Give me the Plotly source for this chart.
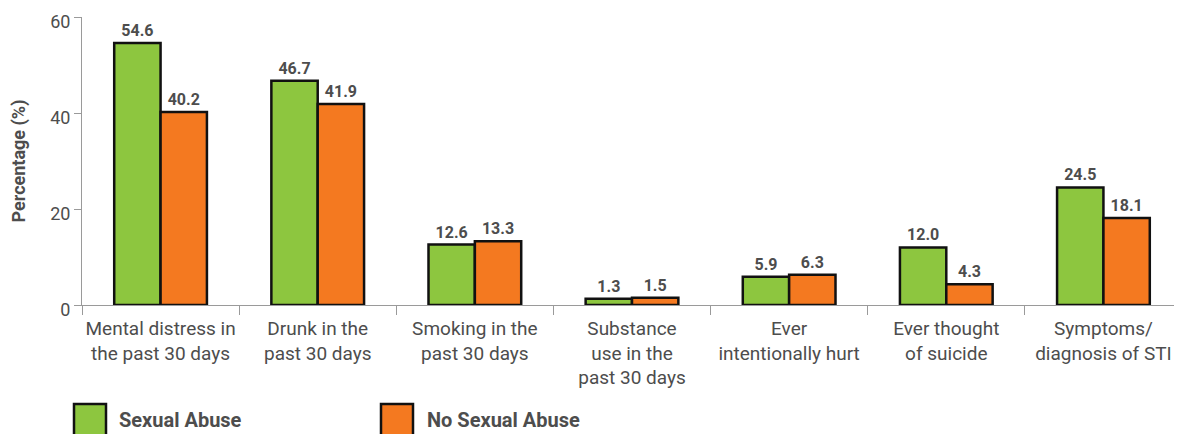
import plotly.graph_objects as go

categories = [
    "Mental distress in<br>the past 30 days",
    "Drunk in the<br>past 30 days",
    "Smoking in the<br>past 30 days",
    "Substance<br>use in the<br>past 30 days",
    "Ever<br>intentionally hurt",
    "Ever thought<br>of suicide",
    "Symptoms/<br>diagnosis of STI",
]
sexual_abuse = [54.6, 46.7, 12.6, 1.3, 5.9, 12.0, 24.5]
no_sexual_abuse = [40.2, 41.9, 13.3, 1.5, 6.3, 4.3, 18.1]
y_ticks = [0, 20, 40, 60]
series_names = ["Sexual Abuse", "No Sexual Abuse"]

GREEN = "#8dc63f"
ORANGE = "#f47920"
TEXT = "#4d4d4d"
FONT = "Roboto, sans-serif"

fig = go.Figure()
for name, vals, col in [(series_names[0], sexual_abuse, GREEN),
                        (series_names[1], no_sexual_abuse, ORANGE)]:
    fig.add_trace(go.Bar(
        x=categories, y=vals, name=name,
        marker=dict(color=col, line=dict(color="#111111", width=2.5)),
        text=[f"{v:.1f}" for v in vals], textposition="outside",
        textfont=dict(family=FONT, size=16, color=TEXT, weight="bold"),
        cliponaxis=False, showlegend=False,
    ))

# page has an 8px body margin, so the figure is offset by 8px
OFF = 8
W, H = 1182 - OFF, 434 - OFF
L, R, T, B = 82 - OFF, 0, 17 - OFF, 129
pw = W - L - R
ph = H - T - B

def px(x):  # page x -> paper
    return (x - OFF - L) / pw

def py(y):  # page y -> paper
    return (H - B - (y - OFF)) / ph

# custom legend
legend_items = [(74, 117, GREEN, series_names[0]), (381, 425, ORANGE, series_names[1])]
for sx, tx, col, label in legend_items:
    fig.add_shape(type="rect", xref="paper", yref="paper",
                  x0=px(sx), x1=px(sx + 32), y0=py(436), y1=py(404),
                  fillcolor=col, line=dict(color="#111111", width=2.5))
    fig.add_annotation(xref="paper", yref="paper", x=px(tx), y=py(420),
                       text=label, showarrow=False, xanchor="left", yanchor="middle",
                       font=dict(family=FONT, size=20, color=TEXT, weight="bold"))

fig.update_layout(
    width=W, height=H,
    margin=dict(l=L, r=R, t=T, b=B, autoexpand=False),
    plot_bgcolor="white", paper_bgcolor="white",
    barmode="group", bargap=0.41, bargroupgap=0,
    font=dict(family=FONT, color=TEXT),
    xaxis=dict(
        showline=True, linecolor="#9a9a9a", linewidth=1,
        ticks="outside", tickson="boundaries", ticklen=9, tickcolor="#9a9a9a",
        tickfont=dict(family=FONT, size=19, color=TEXT),
        tickangle=0, automargin=False, ticklabelstandoff=6,
        ticklabeloverflow="allow",
        showgrid=False,
    ),
    yaxis=dict(
        range=[0, 60], tickvals=y_ticks,
        showline=True, linecolor="#9a9a9a", linewidth=1,
        ticks="outside", ticklen=7, tickcolor="#9a9a9a",
        tickfont=dict(family=FONT, size=18, color=TEXT),
        ticklabeloverflow="allow", ticklabelshift=5,
        showgrid=False, zeroline=False, automargin=False,
        title=dict(text="Percentage (%)", standoff=28,
                   font=dict(family=FONT, size=18, color=TEXT, weight="bold")),
    ),
)

fig.write_html("out.html")
